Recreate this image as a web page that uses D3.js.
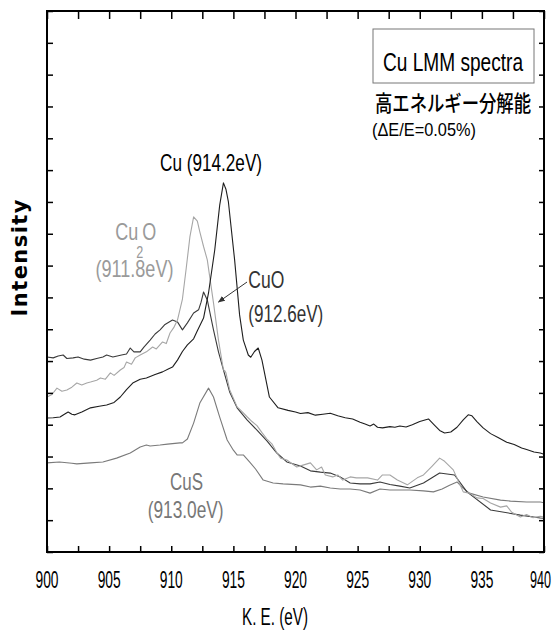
<!DOCTYPE html>
<html>
<head>
<meta charset="utf-8">
<script src="https://cdn.jsdelivr.net/npm/d3@7"></script>
<style>
  body { margin: 0; background: #fff; }
  svg { display: block; font-family: "Liberation Sans", Arial, sans-serif; }
</style>
</head>
<body>
<svg id="chart"></svg>
<script>
// x ticks (eV) and spectra: [K.E. eV, intensity in tick units]
const xTicks = [900, 905, 910, 915, 920, 925, 930, 935, 940];

const cuData = [[900.0,4.21],[900.5,4.22],[901.05,4.24],[901.4,4.33],[901.7,4.40],[902.0,4.33],[902.25,4.31],[902.8,4.40],
  [903.5,4.53],[904.2,4.58],[904.8,4.62],[905.4,4.70],[905.9,4.87],[906.4,5.10],[906.9,5.31],[907.5,5.43],[908.0,5.47],
  [908.7,5.58],[909.3,5.66],[909.8,5.76],[910.1,5.81],[910.5,6.03],[910.9,6.30],[911.3,6.51],[911.8,6.70],[912.1,6.95],
  [912.6,7.35],[913.0,8.14],[913.5,9.49],[913.9,10.9],[914.2,11.60],[914.4,11.4],[914.6,11.0],[915.1,9.18],[915.5,7.45],
  [915.8,6.66],[916.2,6.19],[916.4,6.12],[916.7,6.30],[917.0,6.41],[917.3,6.03],[917.9,4.87],[918.6,4.53],[919.4,4.45],
  [920.0,4.40],[920.4,4.35],[921.0,4.38],[921.6,4.30],[922.2,4.33],[922.8,4.36],[923.4,4.28],[924.0,4.22],[924.6,4.18],
  [925.2,4.08],[925.6,4.02],[926.0,3.96],[926.3,4.02],[926.6,3.92],[927.0,3.90],[927.6,3.94],[928.0,3.92],[928.4,3.96],
  [928.9,3.93],[929.4,4.00],[930.0,4.10],[930.7,4.18],[931.2,3.98],[931.6,3.82],[932.0,3.74],[932.5,3.77],[933.0,3.92],
  [933.5,4.15],[933.9,4.31],[934.2,4.28],[934.6,4.10],[935.1,3.90],[935.7,3.72],[936.3,3.60],[937.0,3.45],[937.6,3.38],
  [938.2,3.27],[938.6,3.22],[939.2,3.14],[939.7,3.11],[940.0,3.07]];

const cu2oData = [[900.0,4.87],[900.4,4.95],[900.8,5.15],[901.2,5.05],[901.6,5.09],[902.0,5.18],[902.4,5.31],[902.8,5.25],
  [903.2,5.31],[903.5,5.34],[904.0,5.40],[904.3,5.47],[904.7,5.43],[905.1,5.63],[905.4,5.55],[905.9,5.72],[906.2,5.80],
  [906.4,5.97],[906.8,5.90],[907.1,6.10],[907.5,6.19],[908.0,6.29],[908.5,6.44],[908.8,6.38],[909.3,6.60],[909.6,6.55],
  [909.9,6.88],[910.2,7.05],[910.5,7.29],[910.9,7.95],[911.2,8.9],[911.5,9.9],[911.8,10.53],[912.1,10.4],[912.3,10.06],
  [912.6,9.6],[912.9,9.18],[913.4,7.83],[913.8,6.66],[914.2,5.72],[914.3,5.70],[914.4,5.63],[914.7,5.10],[915.3,4.56],
  [915.6,4.45],[916.1,4.25],[916.5,4.10],[916.9,3.97],[917.3,3.75],[917.7,3.55],[918.1,3.40],[918.5,3.12],[918.8,2.95],
  [919.3,2.89],[920.1,2.67],[920.6,2.73],[921.2,2.80],[921.7,2.58],[922.1,2.67],[922.4,2.42],[923.0,2.36],[923.4,2.42],
  [923.8,2.26],[924.4,2.36],[924.9,2.33],[925.8,2.33],[926.6,2.26],[927.0,2.42],[927.6,2.42],[928.2,2.26],[929.0,2.11],
  [929.8,2.33],[930.3,2.42],[931.0,2.70],[931.6,2.95],[932.0,2.85],[932.7,2.58],[933.5,1.89],[934.0,1.85],[934.6,1.70],
  [935.1,1.68],[935.7,1.54],[936.5,1.41],[937.0,1.45],[937.4,1.25],[938.1,1.10],[938.6,1.18],[939.1,1.08],[939.7,1.12],
  [940.0,1.10]];

const cuoData = [[900.0,6.13],[900.5,6.10],[900.9,6.16],[901.3,6.19],[901.6,6.08],[902.1,6.10],[902.5,6.13],[903.0,6.06],
  [903.5,6.03],[904.0,6.08],[904.5,6.13],[904.8,6.19],[905.3,6.13],[906.0,6.19],[906.4,6.22],[906.7,6.41],[907.0,6.29],
  [907.5,6.29],[907.8,6.44],[908.3,6.66],[908.7,6.85],[909.1,6.98],[909.5,7.15],[910.1,7.29],[910.5,7.23],[910.9,6.98],
  [911.3,7.20],[911.8,7.51],[912.2,7.61],[912.4,7.85],[912.6,8.17],[912.9,7.92],[913.4,6.98],[913.8,6.29],[914.2,5.72],
  [914.7,5.03],[915.3,4.53],[916.1,4.15],[916.9,3.83],[917.7,3.49],[918.5,3.11],[919.3,2.83],[920.4,2.70],[921.2,2.55],
  [922.0,2.51],[922.8,2.48],[923.6,2.36],[924.4,2.17],[925.2,2.14],[926.0,2.14],[926.8,2.20],[927.6,2.12],[928.4,2.07],
  [929.2,2.01],[930.3,2.17],[931.6,2.48],[932.8,2.42],[933.8,1.89],[935.7,1.32],[938.1,1.16],[939.7,1.07],[940.0,1.06]];

const cusData = [[900.0,2.80],[901.0,2.83],[902.0,2.79],[902.4,2.77],[903.5,2.80],[904.5,2.83],[905.6,2.95],[906.7,3.11],
  [907.5,3.30],[908.0,3.36],[908.3,3.33],[909.1,3.36],[909.7,3.39],[910.7,3.43],[910.9,3.43],[911.3,3.55],[911.8,4.05],
  [912.3,4.68],[913.0,5.15],[913.4,4.87],[913.9,4.24],[914.5,3.52],[915.0,3.20],[915.3,3.05],[915.8,3.05],[916.3,2.83],
  [916.8,2.60],[917.4,2.26],[918.2,2.17],[919.0,2.14],[920.4,2.11],[921.2,2.04],[922.0,2.07],[922.8,2.01],[923.6,1.98],
  [924.4,1.98],[925.2,1.95],[926.0,1.85],[926.8,1.98],[927.6,1.95],[928.4,1.95],[929.2,1.95],[930.3,1.92],[931.1,1.89],
  [931.8,1.98],[932.4,2.10],[933.0,2.20],[933.5,2.00],[934.0,1.85],[935.1,1.73],[936.5,1.63],[937.3,1.60],[938.6,1.57],
  [939.7,1.57],[940.0,1.55]];

const series = [
  {name: "CuS", data: cusData, color: "#7a7a7a"},
  {name: "CuO", data: cuoData, color: "#3a3a3a"},
  {name: "Cu2O", data: cu2oData, color: "#a6a6a6"},
  {name: "Cu", data: cuData, color: "#1e1e1e"}
];

const width = 558, height = 630;
const margin = {top: 11, right: 14, bottom: 78, left: 47};

const svg = d3.select("#chart").attr("width", width).attr("height", height);

const x = d3.scaleLinear().domain([900, 940]).range([margin.left, width - margin.right]);
const y = d3.scaleLinear().domain([0, 17]).range([height - margin.bottom, margin.top]);

// condensed text helper: textLength squeezes the glyphs like the original narrow font
function label(g, px, py, txt, size, len, fill, anchor) {
  return g.append("text")
    .attr("x", px).attr("y", py)
    .attr("font-size", size)
    .attr("fill", fill || "#000")
    .attr("text-anchor", anchor || "start")
    .attr("textLength", len)
    .attr("lengthAdjust", "spacingAndGlyphs")
    .text(txt);
}

// spectra
const line = d3.line().x(d => x(d[0])).y(d => y(d[1]));
svg.append("g").attr("class", "spectra")
  .selectAll("path")
  .data(series)
  .enter()
  .append("path")
  .attr("d", d => line(d.data))
  .attr("fill", "none")
  .attr("stroke", d => d.color)
  .attr("stroke-width", 1.1)
  .attr("stroke-linejoin", "round");

// axes with inward ticks
const minorX = d3.range(900, 940.1, 2.5);
const yTicks = d3.range(0, 17.1, 1);

svg.append("g")
  .attr("transform", "translate(0," + y(0) + ")")
  .call(d3.axisBottom(x).tickValues(minorX).tickSize(-6).tickFormat(""))
  .call(g => g.select(".domain").remove());
svg.append("g")
  .attr("transform", "translate(0," + y(17) + ")")
  .call(d3.axisTop(x).tickValues(minorX).tickSize(-8).tickFormat(""))
  .call(g => g.select(".domain").remove());
svg.append("g")
  .attr("transform", "translate(" + x(900) + ",0)")
  .call(d3.axisLeft(y).tickValues(yTicks).tickSize(-6).tickFormat(""))
  .call(g => g.select(".domain").remove());
svg.append("g")
  .attr("transform", "translate(" + x(940) + ",0)")
  .call(d3.axisRight(y).tickValues(yTicks).tickSize(-5).tickFormat(""))
  .call(g => g.select(".domain").remove());
svg.selectAll(".tick line").attr("stroke", "#000").attr("stroke-width", 1.5);

svg.append("rect")
  .attr("x", x(900)).attr("y", y(17))
  .attr("width", x(940) - x(900)).attr("height", y(0) - y(17))
  .attr("fill", "none").attr("stroke", "#000").attr("stroke-width", 2);

// tick labels
const tl = svg.append("g").attr("class", "xlabels");
xTicks.forEach(t => {
  label(tl, x(t), y(0) + 36, String(t), 24, t === 940 ? 21 : 23, "#000", t === 940 ? "end" : "middle")
    .attr("dx", t === 940 ? 7 : 0);
});

label(svg, 275, 625, "K. E. (eV)", 23, 66, "#000", "middle");

svg.append("text")
  .attr("transform", "translate(27,258) rotate(-90)")
  .attr("text-anchor", "middle")
  .style("font-family", "'DejaVu Sans', Verdana, sans-serif")
  .attr("font-weight", "bold")
  .attr("font-size", 21)
  .attr("textLength", 117)
  .attr("lengthAdjust", "spacing")
  .text("Intensity");

// legend box
svg.append("rect")
  .attr("x", 373).attr("y", 29).attr("width", 161).attr("height", 54)
  .attr("fill", "#fff").attr("stroke", "#777").attr("stroke-width", 1);
label(svg, 383, 71, "Cu LMM spectra", 25, 140, "#000");

svg.append("text")
  .attr("x", 375).attr("y", 111)
  .style("font-family", "'Noto Sans CJK JP', sans-serif")
  .attr("font-size", 22)
  .attr("font-weight", 500)
  .attr("textLength", 156)
  .attr("lengthAdjust", "spacingAndGlyphs")
  .text("高エネルギー分解能");
label(svg, 372, 136, "(ΔE/E=0.05%)", 19, 104, "#000");

// peak annotations
const ann = svg.append("g").attr("class", "annotations");
label(ann, x(909.1), 171, "Cu (914.2eV)", 24, 102, "#000");

const c2x = x(905.5);
label(ann, c2x, 240, "Cu", 24, 23, "#9a9a9a");
label(ann, c2x + 21, 258, "2", 16, 7, "#9a9a9a");
label(ann, c2x + 27, 240, "O", 24, 14, "#9a9a9a");
label(ann, x(903.9), 277, "(911.8eV)", 24, 78, "#9a9a9a");

label(ann, x(916.2), 288, "CuO", 24, 36, "#333");
label(ann, x(916.2), 322, "(912.6eV)", 24, 75, "#333");

label(ann, x(909.9), 490, "CuS", 24, 33, "#777");
label(ann, x(908.1), 518, "(913.0eV)", 24, 76, "#777");

// arrow pointing at the CuO peak
svg.append("defs").append("marker")
  .attr("id", "arrowhead")
  .attr("viewBox", "0 0 10 10")
  .attr("refX", 9).attr("refY", 5)
  .attr("markerWidth", 7).attr("markerHeight", 7)
  .attr("orient", "auto")
  .append("path")
  .attr("d", "M0,1 L10,5 L0,9 Z")
  .attr("fill", "#333");
ann.append("line")
  .attr("x1", x(916.1)).attr("y1", 282)
  .attr("x2", x(913.8)).attr("y2", 302)
  .attr("stroke", "#333").attr("stroke-width", 1)
  .attr("marker-end", "url(#arrowhead)");
</script>
</body>
</html>
